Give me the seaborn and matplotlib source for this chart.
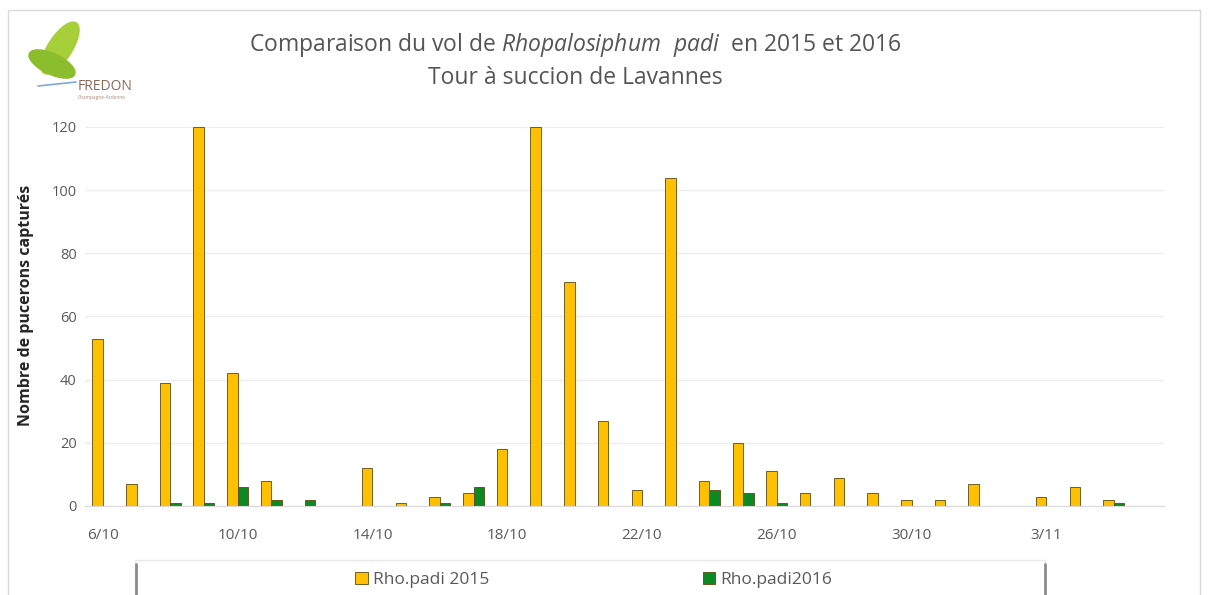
import pandas as pd
import matplotlib.pyplot as plt
import seaborn as sns
from matplotlib.patches import Rectangle, Ellipse
from matplotlib.lines import Line2D

# daily catches, 6/10 -> 5/11
dates = ['6/10', '7/10', '8/10', '9/10', '10/10', '11/10', '12/10', '13/10',
         '14/10', '15/10', '16/10', '17/10', '18/10', '19/10', '20/10', '21/10',
         '22/10', '23/10', '24/10', '25/10', '26/10', '27/10', '28/10', '29/10',
         '30/10', '31/10', '1/11', '2/11', '3/11', '4/11', '5/11']
padi_2015 = [53, 7, 39, 120, 42, 8, 0, 0, 12, 1, 3, 4, 18, 120, 71, 27,
             5, 104, 8, 20, 11, 4, 9, 4, 2, 2, 7, 0, 3, 6, 2]
padi_2016 = [0, 0, 1, 1, 6, 2, 2, 0, 0, 0, 1, 6, 0, 0, 0, 0,
             0, 0, 5, 4, 1, 0, 0, 0, 0, 0, 0, 0, 0, 0, 1]
series = ['Rho.padi 2015', 'Rho.padi2016']
colors = ['#FFC000', '#0B8A24']
tick_labels = ['6/10', '10/10', '14/10', '18/10', '22/10', '26/10', '30/10', '3/11']

df = pd.DataFrame({'date': dates * 2,
                   'serie': [series[0]] * len(dates) + [series[1]] * len(dates),
                   'n': padi_2015 + padi_2016})

sns.set_style("white")
plt.rcParams['font.family'] = ['Open Sans', 'DejaVu Sans']
plt.rcParams['mathtext.fontset'] = 'custom'
plt.rcParams['mathtext.it'] = 'Open Sans:italic'
plt.rcParams['mathtext.rm'] = 'Open Sans'

fig = plt.figure(figsize=(12.09, 5.95), dpi=100)
ax = fig.add_axes([0.0703, 0.1496, 0.8927, 0.637])

sns.barplot(data=df, x='date', y='n', hue='serie', order=dates,
            palette=dict(zip(series, colors)), width=0.62, saturation=1,
            edgecolor='#5a4a10', linewidth=0.6, ax=ax)

ax.set_ylim(0, 120)
ax.set_xlim(-0.53, 31.5)
ax.set_yticks(range(0, 121, 20))
ax.set_xticks([dates.index(t) for t in tick_labels])
ax.set_xticklabels(tick_labels)
ax.tick_params(axis='x', length=0, pad=16, labelsize=11, labelcolor='#595959')
ax.tick_params(axis='y', length=0, pad=6, labelsize=10.5, labelcolor='#595959')
ax.yaxis.grid(True, color='#ececec', linewidth=1)
ax.set_axisbelow(True)
for s in ['left', 'top', 'right']:
    ax.spines[s].set_visible(False)
ax.spines['bottom'].set_color('#d9d9d9')
ax.set_xlabel('')
ax.set_ylabel('Nombre de pucerons capturés', fontsize=11.5, fontweight='bold',
              color='#262626')
ax.yaxis.set_label_coords(-0.047, 0.53)

# legend
handles, labels = ax.get_legend_handles_labels()
ax.get_legend().remove()
fig.legend(handles, labels, loc='center', bbox_to_anchor=(0.491, 1 - 580 / 595),
           ncol=2, frameon=False, columnspacing=12.3, handlelength=0.7,
           handleheight=0.7, handletextpad=0.3, fontsize=12.5,
           labelcolor='#595959')
fig.patches.append(Rectangle((135 / 1209, -0.02), 910 / 1209, 0.02 + 1 - 560 / 595,
                             transform=fig.transFigure, facecolor='none',
                             edgecolor='#e8e8e8', linewidth=1))
fig.lines.append(Line2D([136 / 1209] * 2, [0, 1 - 564 / 595],
                        transform=fig.transFigure, color='#8c8c8c', lw=2))
fig.lines.append(Line2D([1045 / 1209] * 2, [0, 1 - 564 / 595],
                        transform=fig.transFigure, color='#8c8c8c', lw=2))

# outer chart border
fig.patches.append(Rectangle((8 / 1209, -0.05), 1192 / 1209, 1 - 10 / 595 + 0.05,
                             transform=fig.transFigure, facecolor='none',
                             edgecolor='#d9d9d9', linewidth=1))

# title
fig.text(0.476, 1 - 45 / 595, r'Comparaison du vol de $\mathit{Rhopalosiphum\ \ padi}$  en 2015 et 2016',
         ha='center', va='center', fontsize=16.5, color='#555555')
fig.text(0.476, 1 - 78 / 595, 'Tour à succion de Lavannes', ha='center', va='center',
         fontsize=16.5, color='#555555')

# FREDON logo
fig.patches.append(Ellipse((60 / 1209, 1 - 48 / 595), 0.022, 0.09, angle=-15,
                           transform=fig.transFigure, color='#a6cf3a'))
fig.patches.append(Ellipse((52 / 1209, 1 - 64 / 595), 0.026, 0.055, angle=35,
                           transform=fig.transFigure, color='#8bbd2c'))
fig.lines.append(Line2D([38 / 1209, 76 / 1209], [1 - 86 / 595, 1 - 82 / 595],
                        transform=fig.transFigure, color='#7aa9d6', lw=1.2))
fig.text(78 / 1209, 1 - 86 / 595, 'FREDON', fontsize=10, color='#8a6a5a',
         ha='left', va='center')
fig.text(78 / 1209, 1 - 97 / 595, 'Champagne-Ardenne', fontsize=3.5, color='#b08a7a',
         ha='left', va='center')

fig.savefig('out.png', dpi=100)
